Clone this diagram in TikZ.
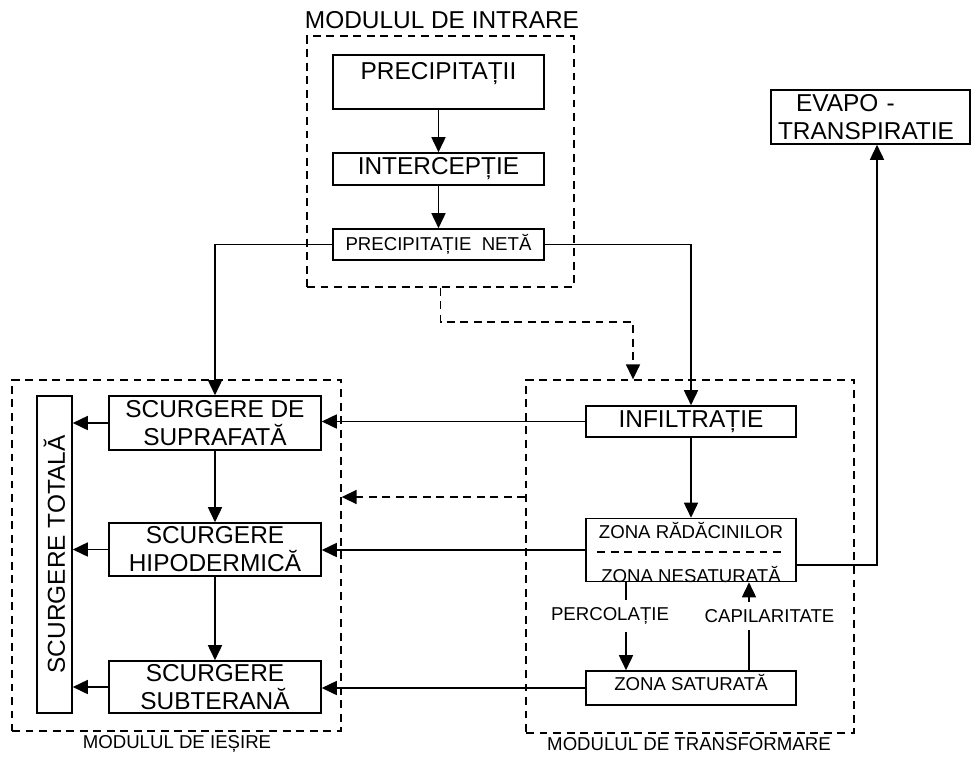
\documentclass[tikz,border=0pt]{standalone}
\usepackage{fontspec}
\setmainfont{Liberation Sans}
\usetikzlibrary{positioning,arrows.meta,calc}

\begin{document}
\begin{tikzpicture}[
  x=0.02cm, y=-0.02cm,
  line width=0.9pt,
  big/.style={font=\fontsize{13.9}{16}\selectfont},
  small/.style={font=\fontsize{10.6}{12.5}\selectfont},
  box/.style={draw, line width=0.9pt, inner sep=0pt, align=center,
              minimum width=4.22cm, big},
  module/.style={draw, dashed, dash pattern=on 4.5pt off 3.2pt, line width=0.8pt,
                 inner sep=0pt},
  lbl/.style={inner sep=0pt, small},
  arr/.style={-{Triangle[length=3mm,width=2.8mm]}},
  darr/.style={arr, dash pattern=on 4.5pt off 3.2pt},
  sep/.style={dash pattern=on 4.5pt off 3.2pt, line width=0.8pt},
]
\useasboundingbox (0,0) rectangle (971,758);

% modulul de intrare
\node[module, minimum width=5.34cm, minimum height=5.02cm] (inbox) at (440.5,161.5) {};
\node[big, inner sep=0pt] (intitle) at (442,20) {MODULUL DE INTRARE};
\node[box, text height=0.48cm, text depth=0.6cm] (prec) at (438.5,82) {PRECIPITAȚII};
\node[box, minimum height=0.64cm] (interc) at (438.5,169) {INTERCEPȚIE};
\node[box, small, minimum height=0.62cm] (neta) at (438.5,244.5) {PRECIPITAȚIE\ \ NETĂ};

% modulul de iesire
\node[module, minimum width=6.58cm, minimum height=7.02cm] (outbox) at (176.5,555.5) {};
\node[lbl] (outlabel) at (177,744) {MODULUL DE IEȘIRE};
\node[box, rotate=90, minimum width=6.34cm, minimum height=0.7cm] (total) at (54.5,554.5) {SCURGERE TOTALĂ};
\node[box, minimum width=4.24cm, minimum height=1.08cm] (surf) at (215,423) {SCURGERE DE\\SUPRAFATĂ};
\node[box, minimum width=4.24cm, minimum height=1.06cm] (hipo) at (215,549.5) {SCURGERE\\HIPODERMICĂ};
\node[box, minimum width=4.24cm, minimum height=1.04cm] (subt) at (215,687) {SCURGERE\\SUBTERANĂ};

% modulul de transformare
\node[module, minimum width=6.56cm, minimum height=7.06cm] (tbox) at (690,556.5) {};
\node[lbl] (tlabel) at (689,744) {MODULUL DE TRANSFORMARE};
\node[box, minimum width=4.2cm, minimum height=0.62cm] (infil) at (691,421.5) {INFILTRAȚIE};
\node[box, minimum width=4.2cm, minimum height=1.26cm] (zona) at (691,550) {};
\node[lbl] (rad) at (691,530) {ZONA RĂDĂCINILOR};
\node[lbl] (nes) at (691,574) {ZONA NESATURATĂ};
\draw[sep] ([xshift=0.24cm,yshift=-0.04cm]zona.west) -- ([xshift=-0.26cm,yshift=-0.04cm]zona.east);
\node[box, small, minimum width=4.2cm, text height=0.38cm, text depth=0.3cm] (sat) at (691,688) {ZONA SATURATĂ};
\node[lbl, inner ysep=4pt] (perc) at (610,616) {PERCOLAȚIE};
\node[lbl, inner ysep=4pt] (cap) at (769.5,616) {CAPILARITATE};

\node[box, align=left, minimum width=3.98cm, minimum height=1.08cm,
      text width=3.7cm] (evapo) at (870.5,117) {\hspace{0.36cm}EVAPO -\\TRANSPIRATIE};

\coordinate (dj) at (633,322);
\coordinate (dy) at (0,497);
\coordinate (ex) at (877,565);
\coordinate (pc) at (626,0);
\coordinate (cp) at (749,0);

% fluxuri
\draw[arr] (prec) -- (interc);
\draw[arr] (interc) -- (neta);
\draw[arr] (neta.west) -| (surf.north);
\draw[arr] (neta.east) -| (infil.north);
\draw[darr] (inbox.south) |- (dj) -- (dj |- tbox.north);

\draw[arr] (infil.west) -- (infil.west -| surf.east);
\draw[arr] (zona.west) -- (zona.west -| hipo.east);
\draw[arr] (sat.west) -- (sat.west -| subt.east);
\draw[darr] (tbox.west |- dy) -- (outbox.east |- dy);

\draw[arr] (surf) -- (hipo);
\draw[arr] (hipo) -- (subt);
\draw[arr] (surf.west) -- (surf.west -| total.south);
\draw[arr] (hipo.west) -- (hipo.west -| total.south);
\draw[arr] (subt.west) -- (subt.west -| total.south);

\draw[arr] (infil) -- (zona);
\draw (zona.south -| pc) -- (perc.north -| pc);
\draw[arr] (perc.south -| pc) -- (sat.north -| pc);
\draw (sat.north -| cp) -- (cap.south -| cp);
\draw[arr] (cap.north -| cp) -- (zona.south -| cp);
\draw[arr] (zona.east |- ex) -- (ex) -- (ex |- evapo.south);

\end{tikzpicture}
\end{document}
